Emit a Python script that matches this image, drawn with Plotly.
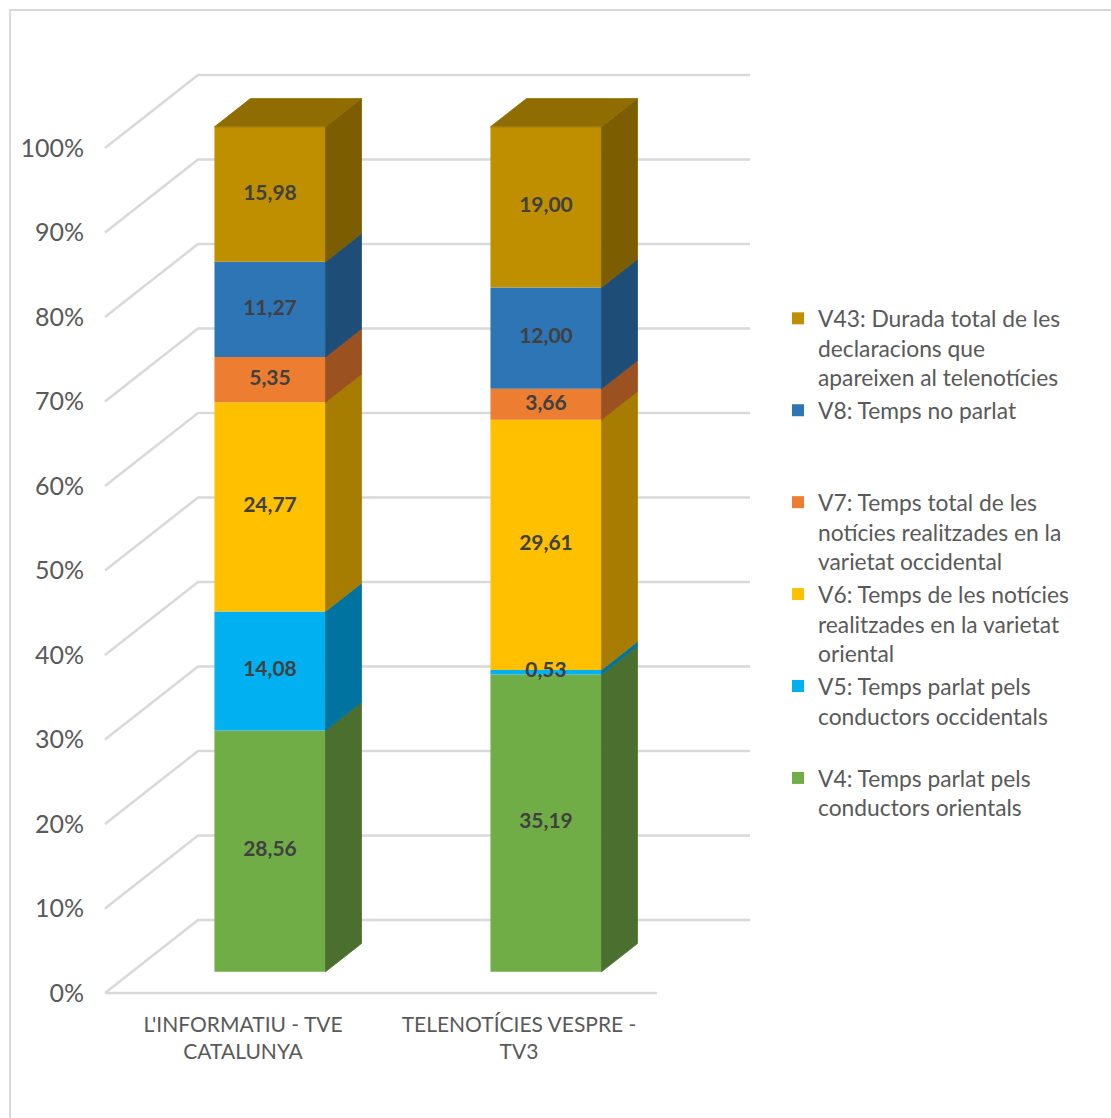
import plotly.graph_objects as go

# ---------------- data ----------------
categories = ["L'INFORMATIU - TVE<br>CATALUNYA", "TELENOTÍCIES VESPRE -<br>TV3"]
series_names = [
    "V4: Temps parlat pels<br>conductors orientals<br>\u00a0",
    "V5: Temps parlat pels<br>conductors occidentals<br>\u00a0",
    "V6: Temps de les notícies<br>realitzades en la varietat<br>oriental",
    "V7: Temps total de les<br>notícies realitzades en la<br>varietat occidental",
    "V8: Temps no parlat<br>\u00a0<br>\u00a0",
    "V43: Durada total de les<br>declaracions que<br>apareixen al telenotícies",
]
v4 = [28.56, 35.19]
v5 = [14.08, 0.53]
v6 = [24.77, 29.61]
v7 = [5.35, 3.66]
v8 = [11.27, 12.00]
v43 = [15.98, 19.00]
series_values = [v4, v5, v6, v7, v8, v43]
y_ticks = [0, 10, 20, 30, 40, 50, 60, 70, 80, 90, 100]
y_ticktext = [f"{t}%" for t in y_ticks]

# ---------------- style ----------------
front_colors = ["#70ad47", "#00b0f0", "#ffc000", "#ed7d31", "#2e75b6", "#bf8f00"]
side_colors = ["#4a6f2e", "#0073a0", "#a67d00", "#9b5120", "#1e4d78", "#7c5d00"]
top_color = "#8f6d00"
grid_color = "#d9d9d9"
text_color = "#595959"
label_color = "#404040"
FONT = "Lato, 'Open Sans', sans-serif"

W, H = 1111, 1118
ML, MB = 90, 115
plot_w = W - ML
plot_h = H - MB
# pixel geometry of the projection
PX_PER_CAT = 276.0
CAT0_PX = 243.0
Y0_PX = 993.0
PX_PER_PCT = 8.45
x_range = [(ML - CAT0_PX) / PX_PER_CAT, (W - CAT0_PX) / PX_PER_CAT]
y_range = [-(plot_h - Y0_PX) / PX_PER_PCT, Y0_PX / PX_PER_PCT]

BX = 93.0 / PX_PER_CAT      # depth offset (x) of back wall, category units
BY = 73.0 / PX_PER_PCT      # depth offset (y) of back wall, % units
ZF = 0.29                   # depth of bar front face
D = 0.387                   # bar depth
BW = 111.0 / PX_PER_CAT     # bar width


def px2paper_x(px):
    return (px - ML) / plot_w


def px2paper_y(py):
    return (plot_h - py) / plot_h


fig = go.Figure()

# gridlines (floor / walls) as shapes below traces
shapes = []
for t in y_ticks:
    path = f"M {-0.5},{t} L {-0.5 + BX},{t + BY} L {1.5 + BX},{t + BY}"
    shapes.append(dict(type="path", xref="x", yref="y", path=path,
                       line=dict(color=grid_color, width=2.5), layer="below"))
shapes.append(dict(type="path", xref="x", yref="y",
                   path="M -0.5,0 L 1.5,0",
                   line=dict(color=grid_color, width=2.5), layer="below"))
# chart border
shapes.append(dict(type="rect", xref="paper", yref="paper",
                   x0=px2paper_x(10), x1=px2paper_x(1300),
                   y0=px2paper_y(1300), y1=px2paper_y(10),
                   line=dict(color=grid_color, width=2), layer="below"))

n_cat = len(categories)
n_ser = len(series_values)
totals = [sum(s[i] for s in series_values) for i in range(n_cat)]
xc = [i + ZF * BX for i in range(n_cat)]

# front faces (bars)
cum = [0.0] * n_cat
bottoms = []
for k, vals in enumerate(series_values):
    pct = [vals[i] / totals[i] * 100 for i in range(n_cat)]
    base = [cum[i] for i in range(n_cat)]
    bottoms.append((base, pct))
    fig.add_trace(go.Bar(
        x=xc, y=pct, base=[b + ZF * BY for b in base], width=BW,
        name=series_names[k], marker=dict(color=front_colors[k], line=dict(width=0)),
        legendgroup=f"g{k}", legendrank=n_ser - k,
        hoverinfo="skip", textposition="none",
    ))
    cum = [cum[i] + pct[i] for i in range(n_cat)]

# side faces
for k, (base, pct) in enumerate(bottoms):
    for i in range(n_cat):
        xr = xc[i] + BW / 2
        y0 = base[i] + ZF * BY
        y1 = base[i] + pct[i] + ZF * BY
        fig.add_trace(go.Scatter(
            x=[xr, xr, xr + D * BX, xr + D * BX, xr],
            y=[y0, y1, y1 + D * BY, y0 + D * BY, y0],
            mode="lines", fill="toself", fillcolor=side_colors[k],
            line=dict(width=0.8, color=side_colors[k]),
            showlegend=False, hoverinfo="skip"))

# top faces
for i in range(n_cat):
    xl = xc[i] - BW / 2
    xr = xc[i] + BW / 2
    yt = cum[i] + ZF * BY
    fig.add_trace(go.Scatter(
        x=[xl, xr, xr + D * BX, xl + D * BX, xl],
        y=[yt, yt, yt + D * BY, yt + D * BY, yt],
        mode="lines", fill="toself", fillcolor=top_color,
        line=dict(width=0.8, color=top_color),
        showlegend=False, hoverinfo="skip"))

# data labels
lx, ly, lt = [], [], []
for k, (base, pct) in enumerate(bottoms):
    for i in range(n_cat):
        lx.append(xc[i])
        ly.append(base[i] + pct[i] / 2 + ZF * BY)
        lt.append(f"{series_values[k][i]:.2f}".replace(".", ","))
fig.add_trace(go.Scatter(
    x=lx, y=ly, text=lt, mode="text",
    textfont=dict(family=FONT, size=21, color=label_color, weight="bold"),
    showlegend=False, hoverinfo="skip"))

fig.update_layout(
    width=W, height=H,
    margin=dict(l=ML, r=0, t=0, b=MB, autoexpand=False),
    paper_bgcolor="white", plot_bgcolor="white",
    barmode="overlay",
    shapes=shapes,
    showlegend=True,
    legend=dict(
        traceorder="grouped", tracegroupgap=0, valign="top",
        x=px2paper_x(778), y=px2paper_y(297), xanchor="left", yanchor="top",
        font=dict(family=FONT, size=22.8, color=text_color),
        bgcolor="rgba(0,0,0,0)",
    ),
    xaxis=dict(range=x_range, tickvals=list(range(n_cat)), ticktext=categories,
               showgrid=False, zeroline=False, showline=False, ticks="",
               tickfont=dict(family=FONT, size=21, color=text_color),
               ticklabelstandoff=7, fixedrange=True),
    yaxis=dict(range=y_range, tickvals=y_ticks, ticktext=y_ticktext,
               showgrid=False, zeroline=False, showline=False, ticks="",
               tickfont=dict(family=FONT, size=25, color=text_color),
               ticklabelstandoff=5, fixedrange=True),
)

fig.write_html("out.html")
